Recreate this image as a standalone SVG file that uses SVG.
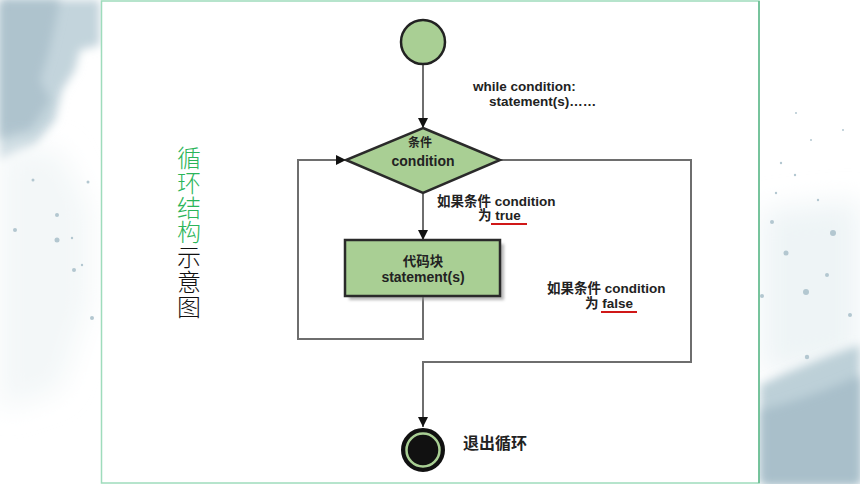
<svg xmlns="http://www.w3.org/2000/svg" width="860" height="484" viewBox="0 0 860 484">
<defs>
<style>
.lbl{font-family:"Liberation Sans","Noto Sans CJK SC",Arial,sans-serif;font-weight:bold;fill:#222;}
.conn{fill:none;stroke:#6e6e6e;stroke-width:2;}
.shape{fill:#a9cf94;stroke:#2a2a2a;stroke-width:2.5;}
.vt{font-family:"Noto Sans CJK SC",sans-serif;font-size:24px;font-weight:300;}
.ul{stroke:#d01818;stroke-width:2;}
</style>
<marker id="arr" markerUnits="userSpaceOnUse" markerWidth="10" markerHeight="10" refX="10" refY="5" orient="auto" viewBox="0 0 10 10">
<path d="M0,0 L10,5 L0,10 z" fill="#111"/>
</marker>
<filter id="blur" x="-50%" y="-50%" width="200%" height="200%"><feGaussianBlur stdDeviation="5"/></filter>
<filter id="blur2" x="-50%" y="-50%" width="200%" height="200%"><feGaussianBlur stdDeviation="14"/></filter>
<filter id="shadow" x="-20%" y="-20%" width="140%" height="140%"><feGaussianBlur stdDeviation="1.5"/></filter>
</defs>
<rect width="860" height="484" fill="#ffffff"/>
<g id="wash">
<path d="M0,0 L100,0 L100,45 L80,50 L75,70 L62,90 L55,120 L35,145 L0,160 z" fill="#c3d4dc" filter="url(#blur)"/>
<path d="M0,0 L60,0 L55,25 L48,55 L40,80 L50,100 L30,130 L0,140 z" fill="#aec3cd" filter="url(#blur)"/>
<path d="M0,150 L60,150 L90,210 L90,300 L60,390 L0,410 z" fill="#f3f7f8" filter="url(#blur2)"/>
<path d="M762,210 L860,200 L860,360 L762,375 z" fill="#eef4f6" filter="url(#blur2)"/>
<path d="M760,385 C790,370 830,355 860,345 L860,484 L760,484 z" fill="#bdd0d8" filter="url(#blur)"/>
<path d="M762,410 C800,400 840,385 860,375 L860,484 L762,484 z" fill="#a9bfca" filter="url(#blur)"/>
<g fill="#b3c7d0">
<circle cx="57" cy="215" r="2"/><circle cx="88" cy="182" r="1.5"/><circle cx="72" cy="238" r="1.2"/>
<circle cx="57" cy="240" r="2.5"/><circle cx="74" cy="270" r="2"/><circle cx="92" cy="318" r="2"/>
<circle cx="15" cy="230" r="2"/><circle cx="33" cy="180" r="1.5"/><circle cx="82" cy="265" r="1.2"/>
<circle cx="772" cy="222" r="2"/><circle cx="786" cy="253" r="2.5"/><circle cx="806" cy="292" r="3"/>
<circle cx="833" cy="233" r="3"/><circle cx="827" cy="275" r="2"/><circle cx="781" cy="163" r="1.2"/>
<circle cx="776" cy="193" r="1.2"/><circle cx="818" cy="200" r="1.2"/><circle cx="843" cy="130" r="1"/>
<circle cx="807" cy="357" r="2.2"/><circle cx="850" cy="315" r="2"/><circle cx="762" cy="296" r="2"/>
<circle cx="796" cy="113" r="1"/><circle cx="811" cy="140" r="1"/><circle cx="795" cy="175" r="1.2"/>
</g>
</g>
<rect id="frame" x="101.5" y="1" width="657.5" height="482" fill="#ffffff" stroke="#9edcbc" stroke-width="1.5"/>
<line x1="759" y1="1" x2="759" y2="483" stroke="#62b98c" stroke-width="1.5"/>
<g id="title">
<text class="vt" writing-mode="tb" x="189" y="146" letter-spacing="0.7"><tspan fill="#2bb55a">循环结构</tspan><tspan fill="#111">示意图</tspan></text>
</g>
<g id="connectors">
<line class="conn" x1="423" y1="64" x2="423" y2="128" marker-end="url(#arr)"/>
<line class="conn" x1="423" y1="194" x2="423" y2="240" marker-end="url(#arr)"/>
<path class="conn" d="M423,297 L423,339 L298,339 L298,160 L346,160" marker-end="url(#arr)"/>
<path class="conn" d="M500,160 L691,160 L691,362 L423,362 L423,427" marker-end="url(#arr)"/>
</g>
<g id="start">
<circle cx="423" cy="42" r="22" fill="#a9cf94" stroke="#222" stroke-width="2.5"/>
</g>
<g id="loopcode">
<text class="lbl" x="473" y="91" font-size="13.5">while condition:</text>
<text class="lbl" x="489" y="106" font-size="13.5">statement(s)……</text>
</g>
<g id="cond">
<polygon class="shape" points="423,128 500,160 423,193 346,160"/>
<text class="lbl" x="420" y="147" font-size="12" text-anchor="middle">条件</text>
<text class="lbl" x="423" y="166" font-size="14" text-anchor="middle">condition</text>
</g>
<g id="block">
<rect x="349" y="244" width="155" height="56" fill="#999" opacity="0.7" filter="url(#shadow)"/>
<rect class="shape" x="345" y="240" width="155" height="56"/>
<text class="lbl" x="423" y="266" font-size="13.5" text-anchor="middle">代码块</text>
<text class="lbl" x="423" y="282" font-size="14" text-anchor="middle">statement(s)</text>
</g>
<g id="truelabel">
<text class="lbl" x="437" y="206" font-size="13.5">如果条件 condition</text>
<text class="lbl" x="478" y="220" font-size="13.5">为 true</text>
<line class="ul" x1="491" y1="224" x2="527" y2="224"/>
</g>
<g id="falselabel">
<text class="lbl" x="547" y="293" font-size="13.5">如果条件 condition</text>
<text class="lbl" x="585" y="308" font-size="13.5">为 false</text>
<line class="ul" x1="601" y1="312" x2="637" y2="312"/>
</g>
<g id="end">
<circle cx="423" cy="450" r="21" fill="#111" stroke="#111" stroke-width="2"/>
<circle cx="423" cy="450" r="16.5" fill="none" stroke="#a9cf94" stroke-width="2.5"/>
<text class="lbl" x="463" y="449" font-size="16">退出循环</text>
</g>
</svg>
